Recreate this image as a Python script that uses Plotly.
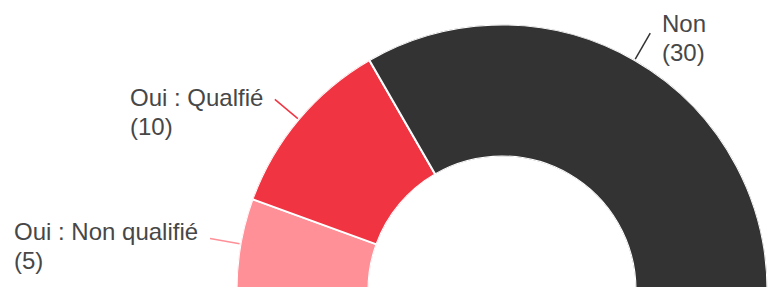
import math
import plotly.graph_objects as go

# ---- data ----
categories = ["Oui : Non qualifié", "Oui : Qualfié", "Non"]
values = [5, 10, 30]
colors = ["#FF9098", "#F03442", "#333333"]

# ---- style / geometry (page pixels) ----
W, H = 769, 292            # figure slightly taller than the window; page is cropped at 287
CX, CY = 502, 290          # donut centre
R_OUT = 265.5              # outer radius
HOLE = 0.503
LINE_IN, LINE_OUT = 1, 31  # leader line start / end beyond outer radius
TEXT_GAP = 10
line1_dy = [-7, -2.4, -9.9]   # first text line (cap centre) relative to leader end
BLOCK_SHIFT = 14.6            # block centre below first-line cap centre
SPACING_SIZE = 22             # annotation font size -> line spacing 1.3 * 22
TEXT_SIZE = 24
FONT = dict(family="Liberation Sans, Arial, sans-serif", size=SPACING_SIZE, color="#474747")

total = sum(values)
scale = 180.0 / total      # half donut: values span 180 degrees

thetas, widths, cum = [], [], 0
for v in values:
    thetas.append((cum + v / 2) * scale)
    widths.append(v * scale)
    cum += v

fig = go.Figure()
fig.add_trace(go.Barpolar(
    r=[1] * len(values),
    theta=thetas,
    width=widths,
    marker=dict(color=colors, line=dict(color="white", width=2)),
    text=categories,
    hoverinfo="text",
    showlegend=False,
))

shapes, annotations = [], []
for cat, v, col, th, dy in zip(categories, values, colors, thetas, line1_dy):
    a = math.radians(th - 90)  # angle from 12 o'clock, clockwise

    def pt(rr):
        return (CX + rr * math.sin(a), CY - rr * math.cos(a))

    x0, y0 = pt(R_OUT + LINE_IN)
    x1, y1 = pt(R_OUT + LINE_OUT)
    shapes.append(dict(type="line", xref="paper", yref="paper",
                       x0=x0 / W, y0=1 - y0 / H, x1=x1 / W, y1=1 - y1 / H,
                       line=dict(color=col, width=1.5)))
    right = math.sin(a) >= 0
    ty = y1 + dy + BLOCK_SHIFT
    span = f'<span style="font-size:{TEXT_SIZE}px">'
    annotations.append(dict(
        xref="paper", yref="paper", x=x1 / W, y=1 - ty / H,
        xanchor="left" if right else "right", yanchor="middle",
        xshift=TEXT_GAP if right else -TEXT_GAP,
        align="left", showarrow=False,
        text=f"{span}{cat}</span><br>{span}({v})</span>", font=FONT,
    ))

fig.update_layout(
    width=W, height=H,
    margin=dict(l=0, r=0, t=0, b=0),
    paper_bgcolor="white", plot_bgcolor="white",
    polar=dict(
        domain=dict(x=[max(0, (CX - R_OUT) / W), min(1, (CX + R_OUT) / W)],
                    y=[(H - CY) / H, min(1, (H - CY + R_OUT) / H)]),
        sector=[0, 180],
        hole=HOLE,
        bgcolor="rgba(0,0,0,0)",
        radialaxis=dict(range=[0, 1], visible=False),
        angularaxis=dict(visible=False, direction="clockwise", rotation=180,
                         thetaunit="degrees"),
    ),
    shapes=shapes,
    annotations=annotations,
)

fig.write_html(
    "out.html",
    config={"displayModeBar": False},
    post_script="document.body.style.margin='0';document.body.style.overflow='hidden';",
)
